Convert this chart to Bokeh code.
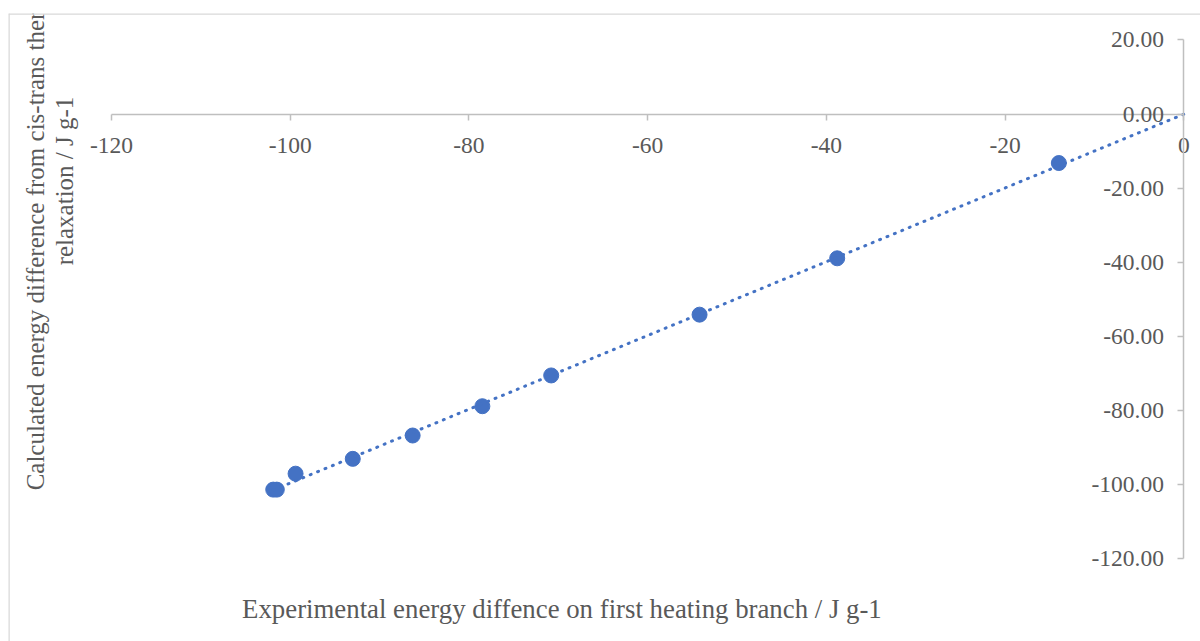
import numpy as np
from bokeh.plotting import figure
from bokeh.models import (Range1d, LinearAxis, FixedTicker, NumeralTickFormatter,
                          Span, ColumnDataSource)
from bokeh.core.properties import value
from bokeh.embed import file_html
from bokeh.resources import INLINE

# Experimental vs calculated energy differences (J g-1)
experimental = [-101.9, -101.5, -99.4, -93.0, -86.3, -78.5, -70.8, -54.2, -38.8, -14.0]
calculated = [-101.3, -101.3, -97.0, -93.0, -86.7, -78.8, -70.5, -54.1, -38.9, -13.2]

x_ticks = [-120, -100, -80, -60, -40, -20, 0]
y_ticks = [-120, -100, -80, -60, -40, -20, 0, 20]

x_title = "Experimental energy diffence on first heating branch / J g-1"
y_title_lines = ["Calculated energy difference from cis-trans thermal",
                 "relaxation / J g-1"]

BLUE = "#4472C4"
AXIS_GREY = "#BFBFBF"
TEXT_GREY = "#595959"
BORDER_GREY = "#D9D9D9"
FONT = "Liberation Serif"

x_range = Range1d(-131.52, 1.85)
y_range = Range1d(-142.27, 27.14)

p = figure(width=1200, height=641, x_range=x_range, y_range=y_range,
           output_backend="svg", toolbar_location=None,
           x_axis_type=None, y_axis_type=None,
           min_border_left=8, min_border_top=13,
           min_border_right=0, min_border_bottom=0)
p.outline_line_color = None
p.grid.visible = False
p.background_fill_color = "white"
p.border_fill_color = "white"

# chart-area border (top and left edges)
p.add_layout(Span(location=y_range.end, dimension="width",
                  line_color=BORDER_GREY, line_width=2.5))
p.add_layout(Span(location=x_range.start, dimension="height",
                  line_color=BORDER_GREY, line_width=2.5))

# axes crossing at the origin
xaxis = LinearAxis(fixed_location=0, bounds=(x_ticks[0], x_ticks[-1]),
                   ticker=FixedTicker(ticks=x_ticks, minor_ticks=[]),
                   formatter=NumeralTickFormatter(format="0"))
yaxis = LinearAxis(fixed_location=0, bounds=(y_ticks[0], y_ticks[-1]),
                   ticker=FixedTicker(ticks=y_ticks, minor_ticks=[]),
                   formatter=NumeralTickFormatter(format="0.00"))
for ax in (xaxis, yaxis):
    ax.axis_line_color = AXIS_GREY
    ax.axis_line_width = 1.5
    ax.major_tick_line_color = AXIS_GREY
    ax.major_tick_line_width = 1.5
    ax.major_tick_in = 0
    ax.major_tick_out = 6
    ax.minor_tick_line_color = None
    ax.major_label_text_font = FONT
    ax.major_label_text_font_size = "23.5px"
    ax.major_label_text_color = TEXT_GREY
xaxis.major_label_standoff = 18
yaxis.major_label_standoff = 14
p.add_layout(xaxis, "below")
p.add_layout(yaxis, "left")

# data points
src = ColumnDataSource(dict(x=experimental, y=calculated))
p.scatter("x", "y", source=src, size=15, fill_color=BLUE, line_color=BLUE)

# linear trendline through the origin
xs = np.array(experimental)
ys = np.array(calculated)
slope = np.sum(xs * ys) / np.sum(xs * xs)
tx = [xs.min(), 0.0]
ty = [slope * xs.min(), 0.0]
p.line(tx, ty, line_color=BLUE, line_width=3, line_dash="1 7", line_cap="round")

# axis titles
p.text(x=[-69.6], y=[-133.4], text=[x_title], text_font=value(FONT),
       text_font_size="26.8px", text_color=TEXT_GREY,
       text_align="center", text_baseline="alphabetic")
p.text(x=[-128.5, -125.3], y=[-101.5, -40.8], text=y_title_lines,
       angle=np.pi / 2, text_font=value(FONT), text_font_size="25px",
       text_color=TEXT_GREY, text_align="left", text_baseline="alphabetic")

open("out.html", "w").write(file_html(p, INLINE))
